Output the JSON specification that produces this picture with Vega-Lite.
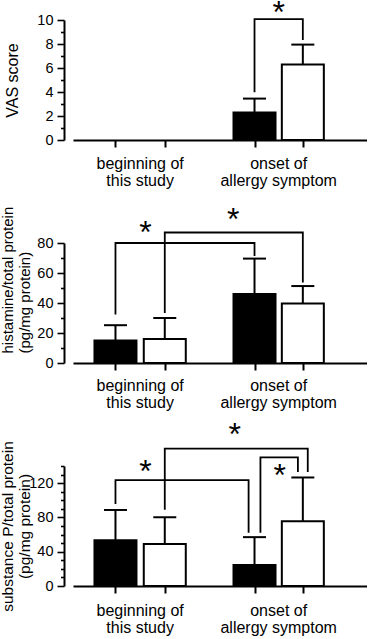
{
  "$schema": "https://vega.github.io/schema/vega-lite/v6.json",
  "background": "white",
  "padding": {"left": 0, "top": -4, "right": 0, "bottom": 0},
  "config": {
    "view": {"stroke": null},
    "font": "Liberation Sans",
    "axis": {
      "domainColor": "black", "tickColor": "black", "labelColor": "black", "titleColor": "black",
      "domainWidth": 2, "tickWidth": 1.6, "grid": false, "labelFontSize": 14.5,
      "titleFontWeight": "normal", "labelOverlap": false, "labelFont": "Liberation Sans", "titleFont": "Liberation Sans"
    }
  },
  "datasets": {
    "bars": [
      {"panel": 1, "time": "onset of allergy symptom", "cond": "filled", "x": 3.82, "value": 2.3, "upper": 3.45},
      {"panel": 1, "time": "onset of allergy symptom", "cond": "open", "x": 4.8, "value": 6.3, "upper": 7.95},
      {"panel": 2, "time": "beginning of this study", "cond": "filled", "x": 1, "value": 15, "upper": 25.2},
      {"panel": 2, "time": "beginning of this study", "cond": "open", "x": 2, "value": 16, "upper": 30},
      {"panel": 2, "time": "onset of allergy symptom", "cond": "filled", "x": 3.82, "value": 46, "upper": 69.6},
      {"panel": 2, "time": "onset of allergy symptom", "cond": "open", "x": 4.8, "value": 39.7, "upper": 51.3},
      {"panel": 3, "time": "beginning of this study", "cond": "filled", "x": 1, "value": 53.5, "upper": 88.7},
      {"panel": 3, "time": "beginning of this study", "cond": "open", "x": 2, "value": 49, "upper": 80.2},
      {"panel": 3, "time": "onset of allergy symptom", "cond": "filled", "x": 3.82, "value": 24.5, "upper": 57},
      {"panel": 3, "time": "onset of allergy symptom", "cond": "open", "x": 4.8, "value": 75.5, "upper": 126.6}
    ],
    "brackets": [
      {"panel": 1, "id": "a", "pt": 1, "x": 3.82, "value": 3.97},
      {"panel": 1, "id": "a", "pt": 2, "x": 3.82, "value": 10.08},
      {"panel": 1, "id": "a", "pt": 3, "x": 4.8, "value": 10.08},
      {"panel": 1, "id": "a", "pt": 4, "x": 4.8, "value": 8.33},
      {"panel": 2, "id": "a", "pt": 1, "x": 1, "value": 32.3},
      {"panel": 2, "id": "a", "pt": 2, "x": 1, "value": 80},
      {"panel": 2, "id": "a", "pt": 3, "x": 3.82, "value": 80},
      {"panel": 2, "id": "a", "pt": 4, "x": 3.82, "value": 71.3},
      {"panel": 2, "id": "b", "pt": 1, "x": 2, "value": 33.4},
      {"panel": 2, "id": "b", "pt": 2, "x": 2, "value": 87},
      {"panel": 2, "id": "b", "pt": 3, "x": 4.8, "value": 87},
      {"panel": 2, "id": "b", "pt": 4, "x": 4.8, "value": 53.6},
      {"panel": 3, "id": "a", "pt": 1, "x": 1, "value": 95.8},
      {"panel": 3, "id": "a", "pt": 2, "x": 1, "value": 123.5},
      {"panel": 3, "id": "a", "pt": 3, "x": 3.7, "value": 123.5},
      {"panel": 3, "id": "a", "pt": 4, "x": 3.7, "value": 62},
      {"panel": 3, "id": "b", "pt": 1, "x": 2, "value": 89},
      {"panel": 3, "id": "b", "pt": 2, "x": 2, "value": 160.3},
      {"panel": 3, "id": "b", "pt": 3, "x": 4.9, "value": 160.3},
      {"panel": 3, "id": "b", "pt": 4, "x": 4.9, "value": 133},
      {"panel": 3, "id": "c", "pt": 1, "x": 3.94, "value": 62},
      {"panel": 3, "id": "c", "pt": 2, "x": 3.94, "value": 150},
      {"panel": 3, "id": "c", "pt": 3, "x": 4.7, "value": 150},
      {"panel": 3, "id": "c", "pt": 4, "x": 4.7, "value": 133}
    ],
    "stars": [
      {"panel": 1, "x": 4.31, "value": 11.04, "text": "*"},
      {"panel": 2, "x": 1.61, "value": 89.8, "text": "*"},
      {"panel": 2, "x": 3.39, "value": 98.5, "text": "*"},
      {"panel": 3, "x": 1.61, "value": 139, "text": "*"},
      {"panel": 3, "x": 3.42, "value": 182.5, "text": "*"},
      {"panel": 3, "x": 4.33, "value": 134.5, "text": "*"}
    ],
    "xlabels": [
      {"x": 1.5, "value": 0, "label": "beginning of\nthis study"},
      {"x": 4.31, "value": 0, "label": "onset of\nallergy symptom"}
    ]
  },
  "spacing": 103,
  "bounds": "flush",
  "resolve": {"scale": {"x": "independent", "y": "independent"}},
  "vconcat": [
    {
      "width": 294, "height": 120,
      "encoding": {
        "x": {"field": "x", "type": "quantitative", "scale": {"domain": [0.24, 6.0], "nice": false, "zero": false},
              "axis": {"values": [1, 2, 3.82, 4.8], "labels": false, "title": null, "tickSize": 7, "tickWidth": 2}},
        "y": {"field": "value", "type": "quantitative", "scale": {"domain": [0, 10], "nice": false},
              "axis": {"values": [0,1,2,3,4,5,6,7,8,9,10], "labelExpr": "datum.value % 2 === 0 ? datum.label : ''",
                       "tickSize": {"condition": {"test": "datum.value % 2 === 0", "value": 7}, "value": 3.5},
                       "labelPadding": 4, "offset": 9, "title": "VAS score", "titleFontSize": 16,
                       "titleX": -59.5, "titleY": 60, "titleBaseline": "top", "titleAngle": -90, "titleAlign": "center"}}
      },
      "layer": [
        {"data": {"name": "bars"}, "transform": [{"filter": "datum.panel === 1"}],
         "mark": {"type": "bar", "width": 42, "stroke": "black", "strokeWidth": 2},
         "encoding": {"y2": {"datum": 0}, "fill": {"field": "cond", "type": "nominal", "scale": {"domain": ["filled", "open"], "range": ["black", "white"]}, "legend": null}}},
        {"data": {"name": "bars"}, "transform": [{"filter": "datum.panel === 1"}],
         "mark": {"type": "rule", "color": "black", "strokeWidth": 2}, "encoding": {"y2": {"field": "upper"}}},
        {"data": {"name": "bars"}, "transform": [{"filter": "datum.panel === 1"}],
         "mark": {"type": "tick", "orient": "horizontal", "size": 23, "thickness": 2, "color": "black", "opacity": 1},
         "encoding": {"y": {"field": "upper", "type": "quantitative"}}},
        {"data": {"name": "brackets"}, "transform": [{"filter": "datum.panel === 1"}],
         "mark": {"type": "line", "color": "black", "strokeWidth": 1.8},
         "encoding": {"detail": {"field": "id"}, "order": {"field": "pt"}}},
        {"data": {"name": "stars"}, "transform": [{"filter": "datum.panel === 1"}],
         "mark": {"type": "text", "fontSize": 32, "baseline": "alphabetic", "dy": 15, "color": "black"},
         "encoding": {"text": {"field": "text"}}},
        {"data": {"name": "xlabels"},
         "mark": {"type": "text", "fontSize": 16, "baseline": "alphabetic", "dy": 29, "lineBreak": "\n", "lineHeight": 17, "color": "black"},
         "encoding": {"text": {"field": "label", "type": "nominal"}}}
      ]
    },
    {
      "width": 294, "height": 120,
      "encoding": {
        "x": {"field": "x", "type": "quantitative", "scale": {"domain": [0.24, 6.0], "nice": false, "zero": false},
              "axis": {"values": [1, 2, 3.82, 4.8], "labels": false, "title": null, "tickSize": 7, "tickWidth": 2}},
        "y": {"field": "value", "type": "quantitative", "scale": {"domain": [0, 80], "nice": false},
              "axis": {"values": [0,10,20,30,40,50,60,70,80], "labelExpr": "datum.value % 20 === 0 ? datum.label : ''",
                       "tickSize": {"condition": {"test": "datum.value % 20 === 0", "value": 7}, "value": 3.5},
                       "labelPadding": 4, "offset": 9, "title": ["histamine/total protein", "(pg/mg protein)"], "titleFontSize": 15, "titleLineHeight": 16.5,
                       "titleX": -63.5, "titleY": 110, "titleBaseline": "top", "titleAngle": -90, "titleAlign": "left"}}
      },
      "layer": [
        {"data": {"name": "bars"}, "transform": [{"filter": "datum.panel === 2"}],
         "mark": {"type": "bar", "width": 42, "stroke": "black", "strokeWidth": 2},
         "encoding": {"y2": {"datum": 0}, "fill": {"field": "cond", "type": "nominal", "scale": {"domain": ["filled", "open"], "range": ["black", "white"]}, "legend": null}}},
        {"data": {"name": "bars"}, "transform": [{"filter": "datum.panel === 2"}],
         "mark": {"type": "rule", "color": "black", "strokeWidth": 2}, "encoding": {"y2": {"field": "upper"}}},
        {"data": {"name": "bars"}, "transform": [{"filter": "datum.panel === 2"}],
         "mark": {"type": "tick", "orient": "horizontal", "size": 23, "thickness": 2, "color": "black", "opacity": 1},
         "encoding": {"y": {"field": "upper", "type": "quantitative"}}},
        {"data": {"name": "brackets"}, "transform": [{"filter": "datum.panel === 2"}],
         "mark": {"type": "line", "color": "black", "strokeWidth": 1.8},
         "encoding": {"detail": {"field": "id"}, "order": {"field": "pt"}}},
        {"data": {"name": "stars"}, "transform": [{"filter": "datum.panel === 2"}],
         "mark": {"type": "text", "fontSize": 32, "baseline": "alphabetic", "dy": 15, "color": "black"},
         "encoding": {"text": {"field": "text"}}},
        {"data": {"name": "xlabels"},
         "mark": {"type": "text", "fontSize": 16, "baseline": "alphabetic", "dy": 28, "lineBreak": "\n", "lineHeight": 17, "color": "black"},
         "encoding": {"text": {"field": "label", "type": "nominal"}}}
      ]
    },
    {
      "width": 294, "height": 120,
      "encoding": {
        "x": {"field": "x", "type": "quantitative", "scale": {"domain": [0.24, 6.0], "nice": false, "zero": false},
              "axis": {"values": [1, 2, 3.82, 4.8], "labels": false, "title": null, "tickSize": 7, "tickWidth": 2}},
        "y": {"field": "value", "type": "quantitative", "scale": {"domain": [0, 140], "nice": false},
              "axis": {"values": [0,10,20,30,40,50,60,70,80,90,100,110,120,130,140], "labelExpr": "datum.value % 40 === 0 ? datum.label : ''",
                       "tickSize": {"condition": {"test": "datum.value % 40 === 0", "value": 7}, "value": 3.5},
                       "labelPadding": 4, "offset": 9, "title": ["substance P/total protein", "(pg/mg protein)"], "titleFontSize": 15.5, "titleLineHeight": 16.5,
                       "titleX": -63.5, "titleY": 60, "titleBaseline": "top", "titleAngle": -90, "titleAlign": "center"}}
      },
      "layer": [
        {"data": {"name": "bars"}, "transform": [{"filter": "datum.panel === 3"}],
         "mark": {"type": "bar", "width": 42, "stroke": "black", "strokeWidth": 2},
         "encoding": {"y2": {"datum": 0}, "fill": {"field": "cond", "type": "nominal", "scale": {"domain": ["filled", "open"], "range": ["black", "white"]}, "legend": null}}},
        {"data": {"name": "bars"}, "transform": [{"filter": "datum.panel === 3"}],
         "mark": {"type": "rule", "color": "black", "strokeWidth": 2}, "encoding": {"y2": {"field": "upper"}}},
        {"data": {"name": "bars"}, "transform": [{"filter": "datum.panel === 3"}],
         "mark": {"type": "tick", "orient": "horizontal", "size": 23, "thickness": 2, "color": "black", "opacity": 1},
         "encoding": {"y": {"field": "upper", "type": "quantitative"}}},
        {"data": {"name": "brackets"}, "transform": [{"filter": "datum.panel === 3"}],
         "mark": {"type": "line", "color": "black", "strokeWidth": 1.8},
         "encoding": {"detail": {"field": "id"}, "order": {"field": "pt"}}},
        {"data": {"name": "stars"}, "transform": [{"filter": "datum.panel === 3"}],
         "mark": {"type": "text", "fontSize": 32, "baseline": "alphabetic", "dy": 15, "color": "black"},
         "encoding": {"text": {"field": "text"}}},
        {"data": {"name": "xlabels"},
         "mark": {"type": "text", "fontSize": 16, "baseline": "alphabetic", "dy": 30, "lineBreak": "\n", "lineHeight": 17, "color": "black"},
         "encoding": {"text": {"field": "label", "type": "nominal"}}}
      ]
    }
  ]
}
